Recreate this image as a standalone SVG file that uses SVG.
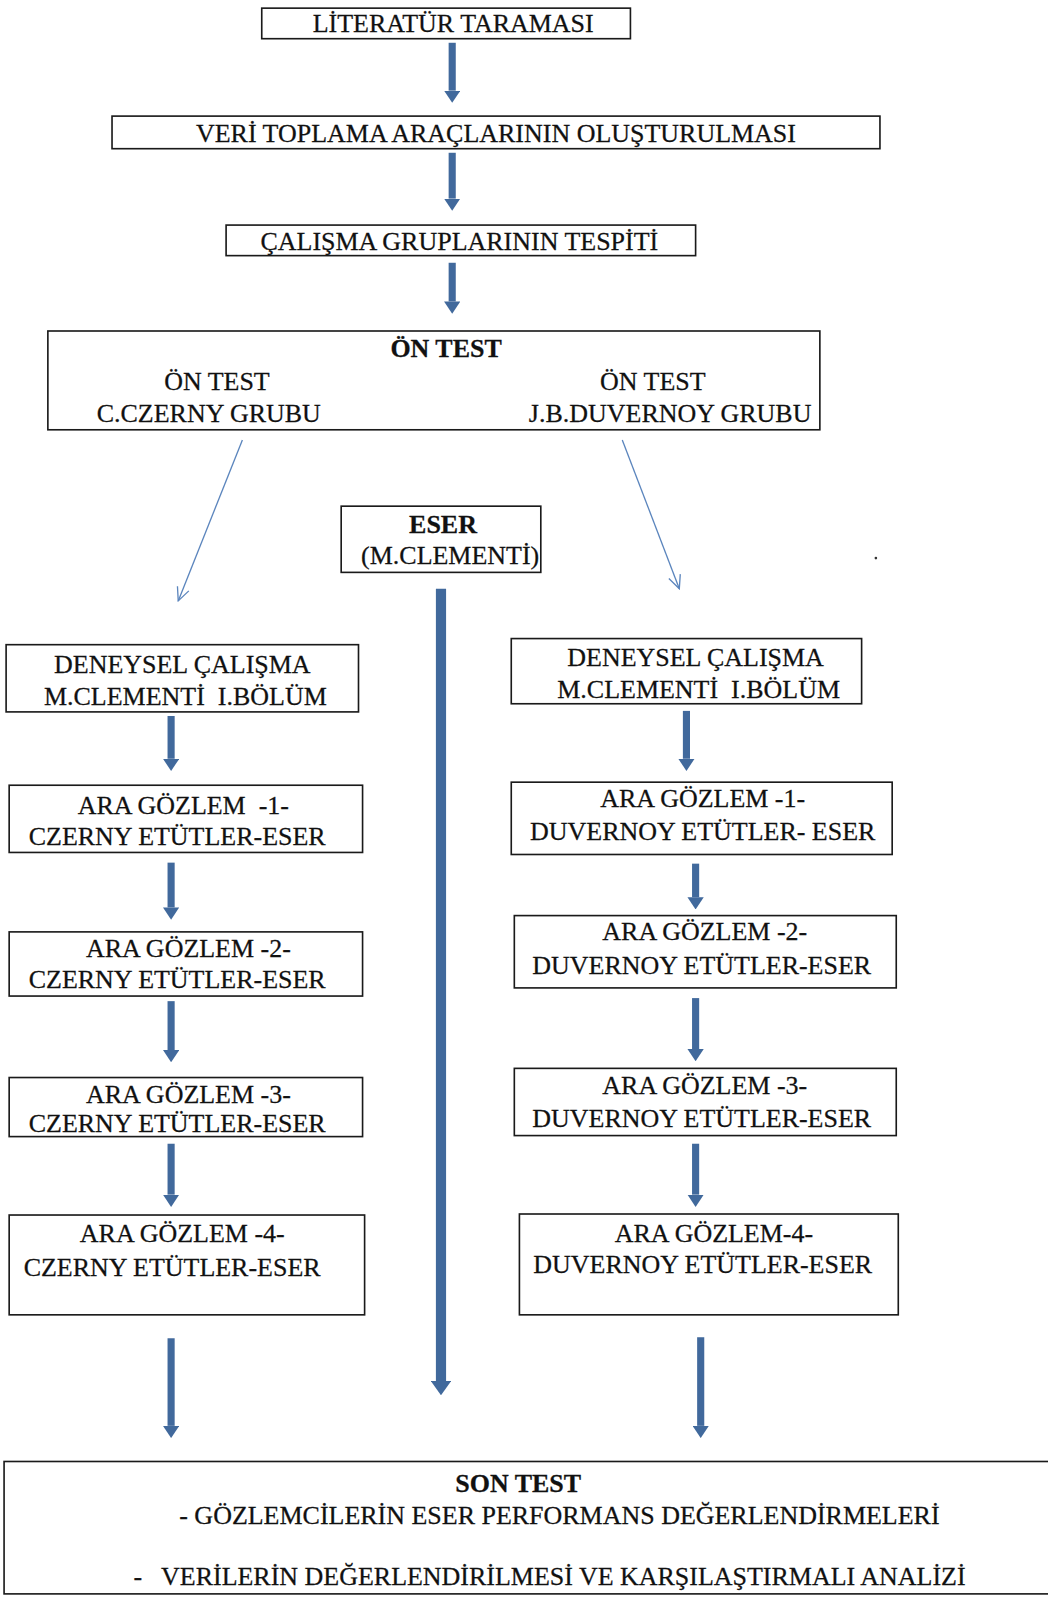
<svg xmlns="http://www.w3.org/2000/svg" width="1048" height="1597" viewBox="0 0 1048 1597">
<style>
.box{fill:#fff;stroke:#1a1a1a;stroke-width:1.6}
text{font-family:"Liberation Serif","Times New Roman",serif;font-size:25.5px;fill:#111;stroke:#111;stroke-width:0.25;text-anchor:middle}
.b{font-weight:bold}
.s{text-anchor:start}
.thick{stroke:#41699C;stroke-width:7;fill:none}
.wide{stroke:#41699C;stroke-width:10;fill:none}
.thin{stroke:#5B85BD;stroke-width:1.3;fill:none}
</style>
<defs>
<marker id="ah" markerUnits="userSpaceOnUse" viewBox="0 0 12 16" markerWidth="12" markerHeight="16" refX="0" refY="8" orient="auto"><path d="M0,0 L12,8 L0,16 z" fill="#41699C"/></marker>
<marker id="ahw" markerUnits="userSpaceOnUse" viewBox="0 0 14 20" markerWidth="14" markerHeight="20" refX="0" refY="10" orient="auto"><path d="M0,0 L14,10 L0,20 z" fill="#41699C"/></marker>
<marker id="av" markerUnits="userSpaceOnUse" viewBox="-14 -7 15 14" markerWidth="15" markerHeight="14" refX="0" refY="0" orient="auto"><path d="M-13,-6 L0,0 L-13,6" stroke="#5B85BD" stroke-width="1.3" fill="none"/></marker>
</defs>
<rect width="1048" height="1597" fill="#fff"/>
<g transform="scale(1.01846)">
<g id="connectors">
<line class="thick" x1="444" y1="42" x2="444" y2="89" marker-end="url(#ah)"/>
<line class="thick" x1="444" y1="150" x2="444" y2="195" marker-end="url(#ah)"/>
<line class="thick" x1="444" y1="258" x2="444" y2="296" marker-end="url(#ah)"/>
<line class="thin" x1="238" y1="432" x2="175" y2="590" marker-end="url(#av)"/>
<line class="thin" x1="611" y1="432" x2="667" y2="578" marker-end="url(#av)"/>
<line class="wide" x1="433" y1="578" x2="433" y2="1356" marker-end="url(#ahw)"/>
<line class="thick" x1="168" y1="703" x2="168" y2="745" marker-end="url(#ah)"/>
<line class="thick" x1="168" y1="847" x2="168" y2="891" marker-end="url(#ah)"/>
<line class="thick" x1="168" y1="983" x2="168" y2="1031" marker-end="url(#ah)"/>
<line class="thick" x1="168" y1="1123" x2="168" y2="1173" marker-end="url(#ah)"/>
<line class="thick" x1="168" y1="1314" x2="168" y2="1400" marker-end="url(#ah)"/>
<line class="thick" x1="674" y1="698" x2="674" y2="745" marker-end="url(#ah)"/>
<line class="thick" x1="683" y1="848" x2="683" y2="881" marker-end="url(#ah)"/>
<line class="thick" x1="683" y1="980" x2="683" y2="1030" marker-end="url(#ah)"/>
<line class="thick" x1="683" y1="1123" x2="683" y2="1173" marker-end="url(#ah)"/>
<line class="thick" x1="688" y1="1313" x2="688" y2="1400" marker-end="url(#ah)"/>
</g>
<g id="n-literatur"><rect class="box" x="257" y="8" width="362" height="30"/><text x="445" y="31">LİTERATÜR TARAMASI</text></g>
<g id="n-veri"><rect class="box" x="110" y="114" width="754" height="32"/><text x="487" y="139">VERİ TOPLAMA ARAÇLARININ OLUŞTURULMASI</text></g>
<g id="n-calisma"><rect class="box" x="222" y="221" width="461" height="30"/><text x="451" y="245">ÇALIŞMA GRUPLARININ TESPİTİ</text></g>
<g id="n-ontest"><rect class="box" x="47" y="325" width="758" height="97"/>
<text class="b" x="438" y="351">ÖN TEST</text>
<text x="213" y="383">ÖN TEST</text><text x="205" y="414">C.CZERNY GRUBU</text>
<text x="641" y="383">ÖN TEST</text><text x="658" y="414">J.B.DUVERNOY GRUBU</text></g>
<g id="n-eser"><rect class="box" x="335" y="497" width="196" height="65"/><text class="b" x="435" y="523">ESER</text><text x="442" y="554">(M.CLEMENTİ)</text></g>
<circle cx="860" cy="548" r="1.3" fill="#333"/>
<g id="n-l-deneysel"><rect class="box" x="6" y="633" width="346" height="66"/><text x="179" y="661">DENEYSEL ÇALIŞMA</text><text x="182" y="692" xml:space="preserve">M.CLEMENTİ  I.BÖLÜM</text></g>
<g id="n-l-ara1"><rect class="box" x="9" y="771" width="347" height="66"/><text x="180" y="799" xml:space="preserve">ARA GÖZLEM  -1-</text><text x="174" y="830">CZERNY ETÜTLER-ESER</text></g>
<g id="n-l-ara2"><rect class="box" x="9" y="915" width="347" height="63"/><text x="185" y="940">ARA GÖZLEM -2-</text><text x="174" y="970">CZERNY ETÜTLER-ESER</text></g>
<g id="n-l-ara3"><rect class="box" x="9" y="1058" width="347" height="58"/><text x="185" y="1083">ARA GÖZLEM -3-</text><text x="174" y="1111">CZERNY ETÜTLER-ESER</text></g>
<g id="n-l-ara4"><rect class="box" x="9" y="1193" width="349" height="98"/><text x="179" y="1219">ARA GÖZLEM -4-</text><text x="169" y="1253">CZERNY ETÜTLER-ESER</text></g>
<g id="n-r-deneysel"><rect class="box" x="502" y="627" width="344" height="64"/><text x="683" y="654">DENEYSEL ÇALIŞMA</text><text x="686" y="685" xml:space="preserve">M.CLEMENTİ  I.BÖLÜM</text></g>
<g id="n-r-ara1"><rect class="box" x="502" y="768" width="374" height="71"/><text x="690" y="792">ARA GÖZLEM -1-</text><text x="690" y="825">DUVERNOY ETÜTLER- ESER</text></g>
<g id="n-r-ara2"><rect class="box" x="505" y="899" width="375" height="71"/><text x="692" y="923">ARA GÖZLEM -2-</text><text x="689" y="956">DUVERNOY ETÜTLER-ESER</text></g>
<g id="n-r-ara3"><rect class="box" x="505" y="1049" width="375" height="66"/><text x="692" y="1074">ARA GÖZLEM -3-</text><text x="689" y="1107">DUVERNOY ETÜTLER-ESER</text></g>
<g id="n-r-ara4"><rect class="box" x="510" y="1192" width="372" height="99"/><text x="701" y="1219">ARA GÖZLEM-4-</text><text x="690" y="1250">DUVERNOY ETÜTLER-ESER</text></g>
<g id="n-sontest"><rect class="box" x="4" y="1435" width="1040" height="130"/>
<text class="b s" x="447" y="1465">SON TEST</text>
<text class="s" x="176" y="1496">- GÖZLEMCİLERİN ESER PERFORMANS DEĞERLENDİRMELERİ</text>
<text class="s" x="131" y="1556" xml:space="preserve">-   VERİLERİN DEĞERLENDİRİLMESİ VE KARŞILAŞTIRMALI ANALİZİ</text></g>
</g>
</svg>
